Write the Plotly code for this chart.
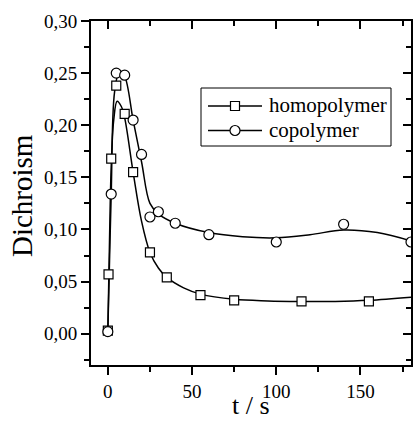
import plotly.graph_objects as go

# Measured points
t_homo = [0, 0.4, 2, 5, 10, 15, 25, 35, 55, 75, 115, 155]
d_homo = [0.003, 0.057, 0.168, 0.238, 0.211, 0.155, 0.078, 0.054, 0.037, 0.032, 0.031, 0.031]

t_co = [0, 2, 5, 10, 15, 20, 25, 30, 40, 60, 100, 140, 180]
d_co = [0.002, 0.134, 0.250, 0.248, 0.205, 0.172, 0.112, 0.117, 0.106, 0.095, 0.088, 0.105, 0.088]

# Smoothed curves through the data
t_homo_fit = [0, 1, 2, 3.5, 5.5, 8, 10, 15, 20, 25, 30, 35, 45, 55, 75, 95, 115, 135, 155, 180]
d_homo_fit = [0.003, 0.09, 0.16, 0.205, 0.223, 0.218, 0.207, 0.155, 0.108, 0.078, 0.063, 0.054,
              0.044, 0.038, 0.033, 0.0315, 0.031, 0.031, 0.032, 0.035]

t_co_fit = [0, 1, 2, 4, 7, 10, 15, 20, 25, 30, 40, 60, 80, 100, 120, 140, 160, 180]
d_co_fit = [0.002, 0.07, 0.134, 0.232, 0.252, 0.247, 0.205, 0.165, 0.125, 0.115, 0.106, 0.097,
            0.093, 0.092, 0.095, 0.0995, 0.097, 0.089]

x_ticks = [0, 50, 100, 150]
y_ticks = [0.00, 0.05, 0.10, 0.15, 0.20, 0.25, 0.30]
series_names = ["homopolymer", "copolymer"]
x_title = "t / s"
y_title = "Dichroism"

FONT = "Liberation Serif, Times New Roman, serif"
BLACK = "#000000"

W, H = 414, 422
ML, MR, MT, MB = 91, 3, 21, 57
PW, PH = W - ML - MR, H - MT - MB


def px(xp):
    return (xp - ML) / PW


def py(yp):
    return (H - MB - yp) / PH


fig = go.Figure()

# fitted curves
for tx, dy in ((t_homo_fit, d_homo_fit), (t_co_fit, d_co_fit)):
    fig.add_trace(go.Scatter(x=tx, y=dy, mode="lines",
                             line=dict(color=BLACK, width=1.5, shape="spline", smoothing=1.0),
                             showlegend=False, hoverinfo="skip"))

# measured points
fig.add_trace(go.Scatter(x=t_homo, y=d_homo, mode="markers", showlegend=False, name=series_names[0],
                         marker=dict(symbol="square", size=9, color="white", line=dict(color=BLACK, width=1.2))))
fig.add_trace(go.Scatter(x=t_co, y=d_co, mode="markers", showlegend=False, name=series_names[1],
                         marker=dict(symbol="circle", size=10, color="white", line=dict(color=BLACK, width=1.2))))

# a trace on the mirrored axes so they are drawn
fig.add_trace(go.Scatter(x=[None], y=[None], mode="markers", xaxis="x2", yaxis="y2",
                         showlegend=False, hoverinfo="skip"))

axis_common = dict(showgrid=False, zeroline=False, showline=True, linecolor=BLACK, linewidth=2,
                   tickcolor=BLACK, tickwidth=1.5, ticklen=8, automargin=False,
                   tickfont=dict(family=FONT, size=19, color=BLACK))

# legend box drawn by hand: frame, line samples, symbols, labels
shapes = [dict(type="rect", xref="paper", yref="paper", x0=px(201), x1=px(391), y0=py(146), y1=py(88),
               line=dict(color=BLACK, width=1), fillcolor="white", layer="above")]
annotations = []
for i, name in enumerate(series_names):
    yc = 106 + i * 24.5
    shapes.append(dict(type="line", xref="paper", yref="paper", x0=px(208), x1=px(262), y0=py(yc), y1=py(yc),
                       line=dict(color=BLACK, width=1.5), layer="above"))
    r = 4.5 if i == 0 else 5
    shapes.append(dict(type="rect" if i == 0 else "circle", xref="paper", yref="paper",
                       x0=px(235 - r), x1=px(235 + r), y0=py(yc + r), y1=py(yc - r),
                       line=dict(color=BLACK, width=1.2), fillcolor="white", layer="above"))
    annotations.append(dict(text=name, xref="paper", yref="paper", x=px(267), y=py(yc - 1),
                            xanchor="left", yanchor="middle", showarrow=False,
                            font=dict(family=FONT, size=21, color=BLACK)))

# axis titles
annotations.append(dict(text=x_title, xref="paper", yref="paper", x=0.5, y=py(422),
                        xanchor="center", yanchor="bottom", showarrow=False,
                        font=dict(family=FONT, size=26, color=BLACK)))
annotations.append(dict(text=y_title, xref="paper", yref="paper", x=px(22), y=py(196), textangle=-90,
                        xanchor="center", yanchor="middle", showarrow=False,
                        font=dict(family=FONT, size=29, color=BLACK)))

fig.update_layout(
    width=W, height=H,
    margin=dict(l=ML, r=MR, t=MT, b=MB),
    paper_bgcolor="white", plot_bgcolor="white",
    separators=",.",
    font=dict(family=FONT, color=BLACK),
    showlegend=False,
    shapes=shapes,
    annotations=annotations,
    xaxis=dict(range=[-10, 180], tickvals=x_ticks, ticks="outside",
               minor=dict(dtick=25, tick0=0, ticks="outside", ticklen=5, tickwidth=1.5, tickcolor=BLACK),
               **axis_common),
    yaxis=dict(range=[-0.03, 0.30], tickvals=y_ticks, tickformat=".2f", ticks="outside",
               minor=dict(dtick=0.025, tick0=0, ticks="outside", ticklen=5, tickwidth=1.5, tickcolor=BLACK),
               **axis_common),
    xaxis2=dict(overlaying="x", side="top", matches="x", tickvals=x_ticks, ticks="inside",
                showticklabels=False,
                minor=dict(dtick=25, tick0=0, ticks="inside", ticklen=5, tickwidth=1.5, tickcolor=BLACK),
                **axis_common),
    yaxis2=dict(overlaying="y", side="right", matches="y", tickvals=y_ticks, ticks="inside",
                showticklabels=False,
                minor=dict(dtick=0.025, tick0=0, ticks="inside", ticklen=5, tickwidth=1.5, tickcolor=BLACK),
                **axis_common),
)

fig.write_html("out.html")
